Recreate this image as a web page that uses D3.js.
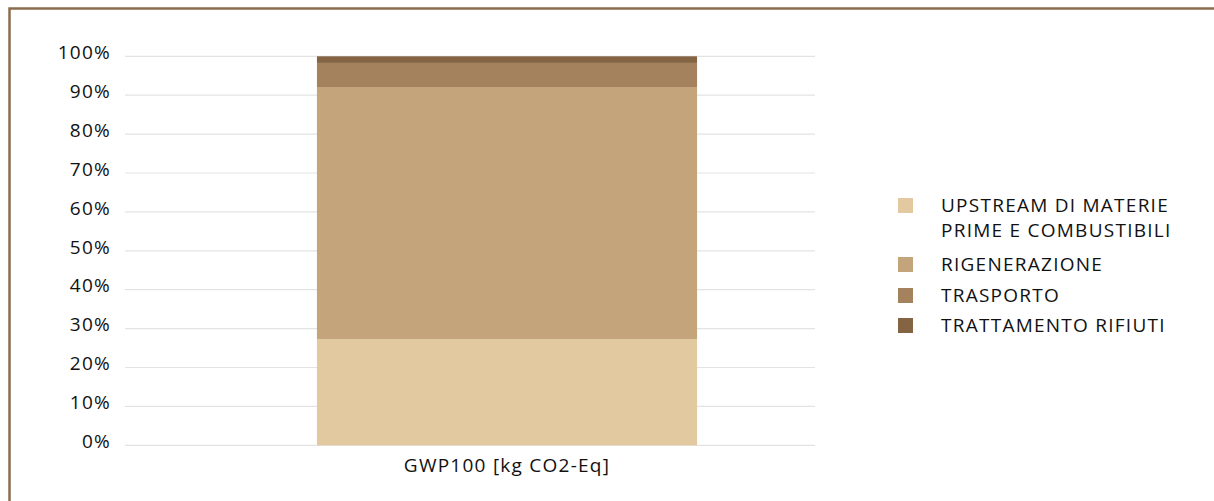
<!DOCTYPE html>
<html>
<head>
<meta charset="utf-8">
<script src="https://cdn.jsdelivr.net/npm/d3@7"></script>
<style>
  html, body { margin: 0; padding: 0; background: #fff; }
  svg { display: block; font-family: "Open Sans", Lato, sans-serif; }
</style>
</head>
<body>
<svg id="chart" width="1214" height="501"></svg>
<script>
// Share of GWP100 by life-cycle phase (percent of total)
const categories = ["GWP100 [kg CO2-Eq]"];
const seriesNames = [
  "UPSTREAM DI MATERIE PRIME E COMBUSTIBILI",
  "RIGENERAZIONE",
  "TRASPORTO",
  "TRATTAMENTO RIFIUTI"
];
const legendLines = [
  ["UPSTREAM DI MATERIE", "PRIME E COMBUSTIBILI"],
  ["RIGENERAZIONE"],
  ["TRASPORTO"],
  ["TRATTAMENTO RIFIUTI"]
];
const upstream = [27.3];
const rigenerazione = [64.8];
const trasporto = [6.2];
const trattamento = [1.7];
const tickValues = [0, 10, 20, 30, 40, 50, 60, 70, 80, 90, 100];
const colors = ["#E2C9A0", "#C4A47B", "#A3825D", "#856443"];

const FONT = "'Open Sans', sans-serif";
const FONT_SIZE = 19;
const SPACING = 1.25;
const svg = d3.select("#chart");

// frame
svg.append("path")
  .attr("d", "M9.5,501 V8.5 H1214")
  .attr("fill", "none")
  .attr("stroke", "#8B6D4C")
  .attr("stroke-width", 2.5);

const plot = { left: 125, right: 815, top: 56.3, bottom: 445.3 };

const rows = categories.map((c, i) => ({
  cat: c,
  s0: upstream[i], s1: rigenerazione[i], s2: trasporto[i], s3: trattamento[i]
}));
const stack = d3.stack().keys(["s0", "s1", "s2", "s3"])(rows);

const y = d3.scaleLinear().domain([0, 100]).range([plot.bottom, plot.top]);
const x = d3.scaleBand().domain(categories).range([plot.left, 889]).paddingInner(0).paddingOuter(0.505);

// gridlines
svg.append("g")
  .selectAll("line")
  .data(tickValues)
  .join("line")
  .attr("x1", plot.left).attr("x2", plot.right)
  .attr("y1", d => y(d)).attr("y2", d => y(d))
  .attr("stroke", "#E3E3E3")
  .attr("stroke-width", 1.2);

// y axis labels
const yAxis = svg.append("g")
  .attr("transform", `translate(${plot.left},0)`)
  .call(d3.axisLeft(y).tickValues(tickValues).tickFormat(d => d + "%").tickSize(0).tickPadding(14));
yAxis.select(".domain").remove();
yAxis.selectAll("text")
  .attr("font-family", FONT)
  .attr("font-size", FONT_SIZE)
  .attr("letter-spacing", SPACING)
  .attr("dy", "0.12em")
  .attr("fill", "#111");

// stacked bar
svg.append("g")
  .selectAll("g")
  .data(stack)
  .join("g")
  .attr("fill", (d, i) => colors[i])
  .selectAll("rect")
  .data(d => d)
  .join("rect")
  .attr("x", d => x(d.data.cat))
  .attr("width", x.bandwidth())
  .attr("y", d => y(d[1]))
  .attr("height", d => y(d[0]) - y(d[1]));

// x axis label
const xAxis = svg.append("g")
  .attr("transform", `translate(0,${plot.bottom})`)
  .call(d3.axisBottom(x).tickSize(0).tickPadding(13));
xAxis.select(".domain").remove();
xAxis.selectAll("text")
  .attr("font-family", FONT)
  .attr("font-size", FONT_SIZE)
  .attr("letter-spacing", SPACING)
  .attr("fill", "#111");

// legend
const legendTop = [212, 271, 302, 332];
const legend = svg.append("g");
seriesNames.forEach((name, i) => {
  const g = legend.append("g");
  g.append("rect")
    .attr("x", 898).attr("y", legendTop[i] - 14)
    .attr("width", 15).attr("height", 15)
    .attr("fill", colors[i]);
  const t = g.append("text")
    .attr("x", 941).attr("y", legendTop[i])
    .attr("font-family", FONT)
    .attr("font-size", FONT_SIZE)
    .attr("letter-spacing", SPACING)
    .attr("fill", "#111");
  legendLines[i].forEach((line, j) => {
    t.append("tspan").attr("x", 941).attr("dy", j === 0 ? 0 : 25).text(line);
  });
});
</script>
</body>
</html>
